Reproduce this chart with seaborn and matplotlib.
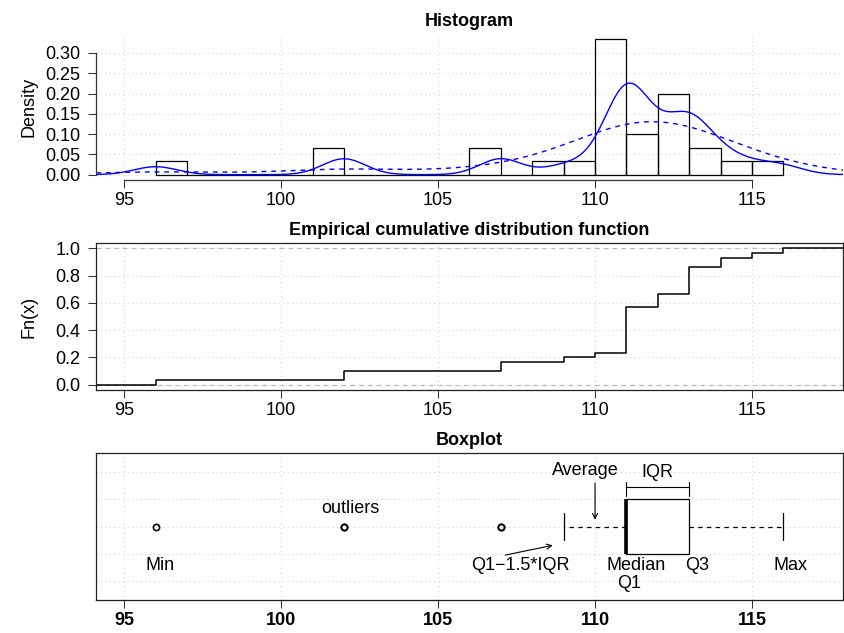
import numpy as np
import matplotlib
matplotlib.use("Agg")
import matplotlib.pyplot as plt
import seaborn as sns

sns.set_theme(style="white")
plt.rcParams['font.family'] = ['Liberation Sans', 'DejaVu Sans']
plt.rcParams['font.size'] = 13
plt.rcParams['axes.unicode_minus'] = True
for key in ['text.color', 'axes.labelcolor', 'xtick.labelcolor', 'ytick.labelcolor']:
    plt.rcParams[key] = 'black'

# observed values and how often each one occurs (n = 30)
values = [96, 102, 107, 109, 110, 111, 112, 113, 114, 115, 116]
counts = [1, 2, 2, 1, 1, 10, 3, 6, 2, 1, 1]
obs = np.repeat(values, counts).astype(float)

xticks = [95, 100, 105, 110, 115]
hist_yticks = [0.00, 0.05, 0.10, 0.15, 0.20, 0.25, 0.30]
ecdf_yticks = [0.0, 0.2, 0.4, 0.6, 0.8, 1.0]

XLIM = (94.1, 117.9)
AXCOL = '#333333'
FS = 13
GRID = dict(color='#d3d3d3', linestyle=(0, (1, 3)), linewidth=0.8)

# R style bandwidth (bw.nrd0)
n = len(obs)
sd = obs.std(ddof=1)
q1, med, q3 = np.percentile(obs, [25, 50, 75])
h = 0.9 * min(sd, (q3 - q1) / 1.34) * n ** -0.2

# R hist uses right-closed bins
breaks = np.arange(obs.min(), obs.max() + 1)
breaks[1:] += 1e-6

fig = plt.figure(figsize=(8.45, 6.33), dpi=100)
ax1 = fig.add_axes([0.1136, 0.7156, 0.8840, 0.2307])
ax2 = fig.add_axes([0.1136, 0.3839, 0.8840, 0.2322])
ax3 = fig.add_axes([0.1136, 0.0521, 0.8840, 0.2322])

# ---- histogram ----
sns.histplot(x=obs, bins=breaks, stat='density', fill=False, color='black',
             edgecolor='black', linewidth=0.9, ax=ax1)
sns.kdeplot(x=obs, bw_method=h / sd, cut=4, gridsize=600, color='blue',
            linewidth=1.0, ax=ax1)
sns.kdeplot(x=obs, bw_method=h / sd, bw_adjust=3, cut=4, gridsize=600, color='blue',
            linewidth=1.0, linestyle=(0, (3.5, 3.5)), ax=ax1)
ax1.set_xlim(*XLIM)
ax1.set_ylim(-0.0133, 0.3467)
ax1.set_xticks(xticks)
ax1.set_yticks(hist_yticks)
ax1.set_yticklabels([f'{v:.2f}' for v in hist_yticks])
ax1.grid(True, **GRID)
for s in ['top', 'right']:
    ax1.spines[s].set_visible(False)
ax1.spines['left'].set_bounds(0, 0.30)
ax1.spines['bottom'].set_bounds(95, 115)
for s in ['left', 'bottom']:
    ax1.spines[s].set_color(AXCOL)
    ax1.spines[s].set_linewidth(0.9)
ax1.set_title('Histogram', fontweight='bold', fontsize=FS, pad=6)
ax1.set_ylabel('Density', fontsize=FS)
ax1.set_xlabel('')

# ---- ecdf ----
sns.ecdfplot(x=obs, color='black', linewidth=1.1, ax=ax2)
# let the step run out to both edges of the panel, as R does
step = ax2.lines[0]
sx = np.asarray(step.get_xdata(), dtype=float)
sy = np.asarray(step.get_ydata(), dtype=float)
sx[~np.isfinite(sx)] = XLIM[0]
step.set_data(np.r_[sx, XLIM[1]], np.r_[sy, sy[-1]])
for yv in [0, 1]:
    ax2.axhline(yv, color='#b3b3b3', linestyle=(0, (3.5, 3.5)), linewidth=0.9, zorder=0)
ax2.set_xlim(*XLIM)
ax2.set_ylim(-0.04, 1.04)
ax2.set_xticks(xticks)
ax2.set_yticks(ecdf_yticks)
ax2.set_yticklabels([f'{v:.1f}' for v in ecdf_yticks])
ax2.grid(True, **GRID)
ax2.set_title('Empirical cumulative distribution function', fontweight='bold',
              fontsize=FS, pad=6)
ax2.set_ylabel('Fn(x)', fontsize=FS)
ax2.set_xlabel('')

# ---- boxplot ----
sns.boxplot(x=obs, ax=ax3, width=0.4, whis=1.5, color='white', linecolor='black',
            linewidth=0.9, fliersize=4.5,
            whiskerprops=dict(linestyle=(0, (3.5, 3.5))),
            medianprops=dict(linewidth=2.6),
            flierprops=dict(marker='o', markerfacecolor='none',
                            markeredgecolor='black', markeredgewidth=1.2))
ax3.set_xlim(*XLIM)
ax3.set_ylim(0.54, -0.54)
ax3.set_xticks(xticks)
ax3.set_xticklabels([str(t) for t in xticks], fontweight='bold')
ax3.set_yticks([-0.4, -0.2, 0.0, 0.2, 0.4])
ax3.tick_params(axis='y', length=0, labelleft=False)
ax3.grid(True, **GRID)
ax3.set_axisbelow(True)
ax3.set_title('Boxplot', fontweight='bold', fontsize=FS, pad=6)
ax3.set_xlabel('')
ax3.set_ylabel('')

tk = dict(ha='center', va='center', fontsize=FS)
ax3.text(109.69, -0.41, 'Average', **tk)
ax3.annotate('', xy=(110, -0.03), xytext=(110, -0.34),
             arrowprops=dict(arrowstyle='->', color='black', lw=0.8, mutation_scale=9))
ax3.text((q1 + q3) / 2, -0.40, 'IQR', **tk)
ax3.plot([q1, q3], [-0.292, -0.292], color='black', lw=0.8)
ax3.plot([q1, q1], [-0.328, -0.224], color='black', lw=0.8)
ax3.plot([q3, q3], [-0.328, -0.224], color='black', lw=0.8)
ax3.text(102.22, -0.135, 'outliers', **tk)
ax3.text(96.14, 0.29, 'Min', **tk)
ax3.text(107.61, 0.29, 'Q1\u22121.5*IQR', **tk)
ax3.annotate('', xy=(108.74, 0.134), xytext=(107.05, 0.214),
             arrowprops=dict(arrowstyle='->', color='black', lw=0.8, mutation_scale=9))
ax3.text(111.31, 0.288, 'Median', **tk)
ax3.text(111.1, 0.422, 'Q1', **tk)
ax3.text(113.25, 0.29, 'Q3', **tk)
ax3.text(116.24, 0.29, 'Max', **tk)

for ax in [ax2, ax3]:
    for s in ax.spines.values():
        s.set_color('#222222')
        s.set_linewidth(0.9)

for ax in [ax1, ax2, ax3]:
    ax.tick_params(axis='x', direction='out', length=5.8, width=0.75, color=AXCOL,
                   labelcolor='black', pad=2.5, labelsize=FS, bottom=True)
    ax.tick_params(axis='y', direction='out', length=5.8, width=0.75, color=AXCOL,
                   labelcolor='black', pad=5.5, labelsize=FS, left=True)
    ax.yaxis.set_label_coords(-0.078, 0.5)
ax3.tick_params(axis='y', length=0, left=False)

fig.savefig('out.png', dpi=100)
